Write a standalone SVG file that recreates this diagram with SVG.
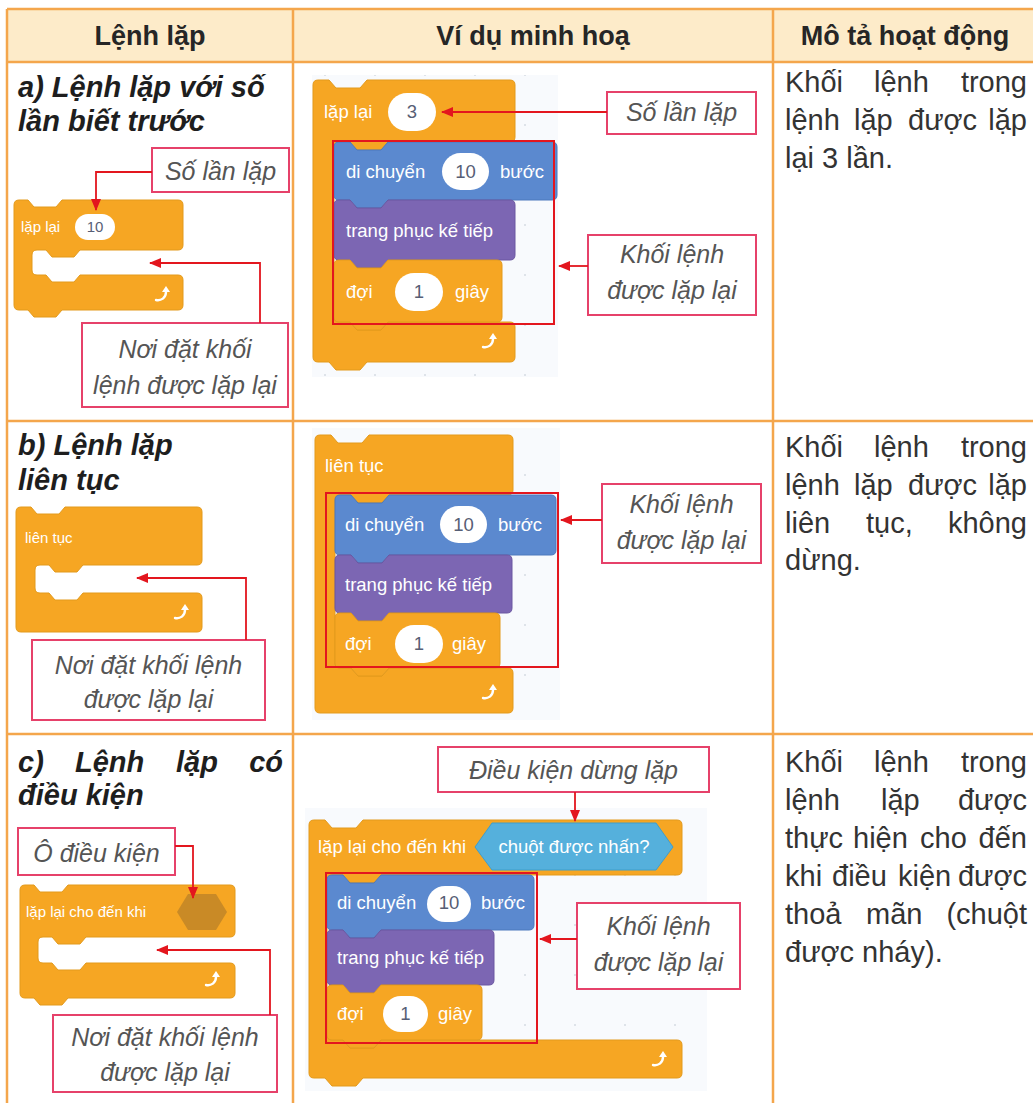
<svg xmlns="http://www.w3.org/2000/svg" xmlns:xlink="http://www.w3.org/1999/xlink" width="1033" height="1103" viewBox="0 0 1033 1103">
<style>
text{font-family:"Liberation Sans",Arial,sans-serif}
.hdr{font-size:27px;font-weight:bold;fill:#262626;text-anchor:middle}
.ttl{font-size:29px;font-weight:bold;font-style:italic;fill:#1e1e1e}
.body{font-size:29px;fill:#333}
.end{text-anchor:end}
.co{font-size:25px;font-style:italic;fill:#555;text-anchor:middle}
.blk{font-size:18.5px;fill:#fff}
.sblk{font-size:15px;fill:#fff}
.num{fill:#575e75;text-anchor:middle}
.cbox{fill:#fff;stroke:#e6416a;stroke-width:2}
.hl{fill:none;stroke:#e3161e;stroke-width:2}
.conn{fill:none;stroke:#e3161e;stroke-width:1.8;marker-end:url(#ah)}
.ctl{fill:#f6a623;stroke:#e39a1c;stroke-width:1}
.mot{fill:#5b89cf;stroke:#4c79bd;stroke-width:1}
.lks{fill:#7c66b3;stroke:#6b57a1;stroke-width:1}
.oval{fill:#fff}
.grid{stroke:#f4a64c;stroke-width:2.5;fill:none}
.canvas{fill:#f8fafd}
</style>
<defs>
<marker id="ah" viewBox="0 0 12 10" refX="11" refY="5" markerWidth="12" markerHeight="10" markerUnits="userSpaceOnUse" orient="auto"><path d="M0,0 L12,5 L0,10 Z" fill="#e3161e"/></marker>
<pattern id="dots" width="50" height="50" patternUnits="userSpaceOnUse"><circle cx="25" cy="25" r="1" fill="#d6dbe3"/></pattern>
<g id="loop"><path d="M-7,5 C-2,6 3,3 3,-3" fill="none" stroke="#fff" stroke-width="2.4" stroke-linecap="round"/><polygon points="-1,-3 3,-9 7,-3" fill="#fff"/></g>
</defs>
<rect width="1033" height="1103" fill="#fff"/>

<g id="table">
<rect x="7" y="9" width="1026" height="53" fill="#fdebc9"/>
<path class="grid" d="M7,9 H1033 M7,62 H1033 M7,421 H1033 M7,734 H1033 M7,9 V1103 M293,9 V1103 M773,9 V1103"/>
<text class="hdr" x="150" y="45">Lệnh lặp</text>
<text class="hdr" x="533" y="45">Ví dụ minh hoạ</text>
<text class="hdr" x="905" y="45">Mô tả hoạt động</text>
</g>

<g id="canvases">
<rect class="canvas" x="312" y="75" width="246" height="302"/><rect x="312" y="75" width="246" height="302" fill="url(#dots)"/>
<rect class="canvas" x="312" y="428" width="248" height="292"/><rect x="312" y="428" width="248" height="292" fill="url(#dots)"/>
<rect class="canvas" x="305" y="808" width="402" height="283"/><rect x="305" y="808" width="402" height="283" fill="url(#dots)"/>
</g>

<!-- Row a -->
<g id="title-a">
<text class="ttl" x="18" y="97">a) Lệnh lặp với số</text>
<text class="ttl" x="18" y="131">lần biết trước</text>
</g>
<g id="block-a-left">
<path class="ctl" d="M14,205 Q14,200 19,200 H28 l6,7 h22 l6,-7 H178 Q183,200 183,205 V245 Q183,250 178,250 H80 l-6,7 h-22 l-6,-7 H37 Q32,250 32,255 V270 Q32,275 37,275 H46 l6,7 h22 l6,-7 H178 Q183,275 183,280 V305 Q183,310 178,310 H62 l-6,7 h-22 l-6,-7 H19 Q14,310 14,305 Z"/>
<text class="sblk" x="21" y="232">lặp lại</text>
<rect class="oval" x="75" y="214" width="40" height="26" rx="13"/>
<text class="sblk num" x="95" y="232">10</text>
<use href="#loop" x="163" y="295"/>
</g>
<g id="callout-a-solan"><rect class="cbox" x="152" y="148" width="137" height="44"/><text class="co" x="220.5" y="180">Số lần lặp</text></g>
<g id="callout-a-noidat"><rect class="cbox" x="82" y="323" width="206" height="84"/><text class="co" x="185" y="358">Nơi đặt khối</text><text class="co" x="185" y="394">lệnh được lặp lại</text></g>

<g id="example-a">
<path class="ctl" d="M313,85 Q313,80 318,80 H329 l7,8 h24 l7,-8 H510 Q515,80 515,85 V137 Q515,142 510,142 H388 l-7,8 h-24 l-7,-8 H339 Q334,142 334,147 V317 Q334,322 339,322 H350 l7,8 h24 l7,-8 H510 Q515,322 515,327 V357 Q515,362 510,362 H367 l-7,8 h-24 l-7,-8 H318 Q313,362 313,357 Z"/>
<text class="blk" x="324" y="118">lặp lại</text>
<rect class="oval" x="388" y="93" width="48" height="38" rx="19"/><text class="blk num" x="412" y="118">3</text>
<path class="mot" d="M334,147 Q334,142 339,142 H350 l7,8 h24 l7,-8 H552 Q557,142 557,147 V195 Q557,200 552,200 H388 l-7,8 h-24 l-7,-8 H339 Q334,200 334,195 Z"/>
<text class="blk" x="346" y="178">di chuyển</text>
<rect class="oval" x="442" y="153" width="47" height="37" rx="18.5"/><text class="blk num" x="465.5" y="178">10</text>
<text class="blk" x="500" y="178">bước</text>
<path class="lks" d="M334,205 Q334,200 339,200 H350 l7,8 h24 l7,-8 H510 Q515,200 515,205 V255 Q515,260 510,260 H388 l-7,8 h-24 l-7,-8 H339 Q334,260 334,255 Z"/>
<text class="blk" x="346" y="237">trang phục kế tiếp</text>
<path class="ctl" d="M334,265 Q334,260 339,260 H350 l7,8 h24 l7,-8 H497 Q502,260 502,265 V317 Q502,322 497,322 H388 l-7,8 h-24 l-7,-8 H339 Q334,322 334,317 Z"/>
<text class="blk" x="346" y="298">đợi</text>
<rect class="oval" x="395" y="273" width="48" height="38" rx="19"/><text class="blk num" x="419" y="298">1</text>
<text class="blk" x="455" y="298">giây</text>
<use href="#loop" x="490" y="342"/>
<rect class="hl" x="333" y="141" width="221" height="183"/>
</g>
<g id="callout-a-mid-solan"><rect class="cbox" x="607" y="92" width="149" height="42"/><text class="co" x="681.5" y="121">Số lần lặp</text></g>
<g id="callout-a-mid-khoi"><rect class="cbox" x="588" y="235" width="168" height="80"/><text class="co" x="672" y="263">Khối lệnh</text><text class="co" x="672" y="299">được lặp lại</text></g>

<g id="desc-a">
<text class="body" y="92"><tspan x="785">Khối</tspan><tspan x="874">lệnh</tspan></text><text class="body end" x="1027" y="92">trong</text>
<text class="body" y="130"><tspan x="785">lệnh</tspan><tspan x="854">lặp</tspan><tspan x="908">được</tspan></text><text class="body end" x="1027" y="130">lặp</text>
<text class="body" x="785" y="168">lại 3 lần.</text>
</g>

<!-- Row b -->
<g id="title-b">
<text class="ttl" x="18" y="455">b) Lệnh lặp</text>
<text class="ttl" x="18" y="490">liên tục</text>
</g>
<g id="block-b-left">
<path class="ctl" d="M16,512 Q16,507 21,507 H31 l6,7 h22 l6,-7 H197 Q202,507 202,512 V560 Q202,565 197,565 H83 l-6,7 h-22 l-6,-7 H40 Q35,565 35,570 V588 Q35,593 40,593 H49 l6,7 h22 l6,-7 H197 Q202,593 202,598 V627 Q202,632 197,632 H21 Q16,632 16,627 Z"/>
<text class="sblk" x="25" y="543">liên tục</text>
<use href="#loop" x="182" y="613"/>
</g>
<g id="callout-b-noidat"><rect class="cbox" x="32" y="640" width="233" height="80"/><text class="co" x="148.5" y="674">Nơi đặt khối lệnh</text><text class="co" x="148.5" y="708">được lặp lại</text></g>

<g id="example-b">
<path class="ctl" d="M315,440 Q315,435 320,435 H331 l7,8 h24 l7,-8 H508 Q513,435 513,440 V490 Q513,495 508,495 H389 l-7,8 h-24 l-7,-8 H340 Q335,495 335,500 V663 Q335,668 340,668 H351 l7,8 h24 l7,-8 H508 Q513,668 513,673 V708 Q513,713 508,713 H320 Q315,713 315,708 Z"/>
<text class="blk" x="325" y="472">liên tục</text>
<path class="mot" d="M335,500 Q335,495 340,495 H351 l7,8 h24 l7,-8 H551 Q556,495 556,500 V550 Q556,555 551,555 H389 l-7,8 h-24 l-7,-8 H340 Q335,555 335,550 Z"/>
<text class="blk" x="345" y="531">di chuyển</text>
<rect class="oval" x="440" y="506" width="47" height="37" rx="18.5"/><text class="blk num" x="463.5" y="531">10</text>
<text class="blk" x="498" y="531">bước</text>
<path class="lks" d="M335,560 Q335,555 340,555 H351 l7,8 h24 l7,-8 H507 Q512,555 512,560 V608 Q512,613 507,613 H389 l-7,8 h-24 l-7,-8 H340 Q335,613 335,608 Z"/>
<text class="blk" x="345" y="591">trang phục kế tiếp</text>
<path class="ctl" d="M335,618 Q335,613 340,613 H351 l7,8 h24 l7,-8 H495 Q500,613 500,618 V663 Q500,668 495,668 H389 l-7,8 h-24 l-7,-8 H340 Q335,668 335,663 Z"/>
<text class="blk" x="345" y="650">đợi</text>
<rect class="oval" x="395" y="625" width="48" height="38" rx="19"/><text class="blk num" x="419" y="650">1</text>
<text class="blk" x="452" y="650">giây</text>
<use href="#loop" x="490" y="693"/>
<rect class="hl" x="326" y="493" width="232" height="174"/>
</g>
<g id="callout-b-mid-khoi"><rect class="cbox" x="602" y="484" width="159" height="79"/><text class="co" x="681.5" y="513">Khối lệnh</text><text class="co" x="681.5" y="549">được lặp lại</text></g>

<g id="desc-b">
<text class="body" y="457"><tspan x="785">Khối</tspan><tspan x="874">lệnh</tspan></text><text class="body end" x="1027" y="457">trong</text>
<text class="body" y="495"><tspan x="785">lệnh</tspan><tspan x="854">lặp</tspan><tspan x="908">được</tspan></text><text class="body end" x="1027" y="495">lặp</text>
<text class="body" y="533"><tspan x="785">liên</tspan><tspan x="866">tục,</tspan></text><text class="body end" x="1027" y="533">không</text>
<text class="body" x="785" y="570">dừng.</text>
</g>

<!-- Row c -->
<g id="title-c">
<text class="ttl" y="772"><tspan x="18">c)</tspan><tspan x="75">Lệnh</tspan><tspan x="176">lặp</tspan></text><text class="ttl end" x="283" y="772">có</text>
<text class="ttl" x="18" y="805">điều kiện</text>
</g>
<g id="callout-c-odk"><rect class="cbox" x="18" y="828" width="157" height="47"/><text class="co" x="96.5" y="862">Ô điều kiện</text></g>
<g id="block-c-left">
<path class="ctl" d="M20,890 Q20,885 25,885 H34 l6,7 h22 l6,-7 H230 Q235,885 235,890 V932 Q235,937 230,937 H86 l-6,7 h-22 l-6,-7 H43 Q38,937 38,942 V958 Q38,963 43,963 H52 l6,7 h22 l6,-7 H230 Q235,963 235,968 V993 Q235,998 230,998 H68 l-6,7 h-22 l-6,-7 H25 Q20,998 20,993 Z"/>
<text class="sblk" x="26" y="917">lặp lại cho đến khi</text>
<polygon points="177,912 188,894 216,894 227,912 216,930 188,930" fill="#c98a26"/>
<use href="#loop" x="213" y="980"/>
</g>
<g id="callout-c-noidat"><rect class="cbox" x="53" y="1015" width="224" height="77"/><text class="co" x="165" y="1046">Nơi đặt khối lệnh</text><text class="co" x="165" y="1081">được lặp lại</text></g>

<g id="callout-c-mid-dk"><rect class="cbox" x="438" y="747" width="271" height="45"/><text class="co" x="573.5" y="779">Điều kiện dừng lặp</text></g>
<g id="example-c">
<path class="ctl" d="M309,825 Q309,820 314,820 H325 l7,8 h24 l7,-8 H677 Q682,820 682,825 V870 Q682,875 677,875 H381 l-7,8 h-24 l-7,-8 H332 Q327,875 327,880 V1035 Q327,1040 332,1040 H343 l7,8 h24 l7,-8 H677 Q682,1040 682,1045 V1073 Q682,1078 677,1078 H363 l-7,8 h-24 l-7,-8 H314 Q309,1078 309,1073 Z"/>
<text class="blk" x="318" y="853">lặp lại cho đến khi</text>
<polygon points="475,847 492,823 656,823 673,847 656,870 492,870" fill="#55b0dc" stroke="#3f9ecb" stroke-width="1"/>
<text class="blk" x="574" y="853" text-anchor="middle">chuột được nhấn?</text>
<path class="mot" d="M327,880 Q327,875 332,875 H343 l7,8 h24 l7,-8 H529 Q534,875 534,880 V925 Q534,930 529,930 H381 l-7,8 h-24 l-7,-8 H332 Q327,930 327,925 Z"/>
<text class="blk" x="337" y="909">di chuyển</text>
<rect class="oval" x="427" y="886" width="44" height="36" rx="18"/><text class="blk num" x="449" y="909">10</text>
<text class="blk" x="481" y="909">bước</text>
<path class="lks" d="M327,935 Q327,930 332,930 H343 l7,8 h24 l7,-8 H489 Q494,930 494,935 V980 Q494,985 489,985 H381 l-7,8 h-24 l-7,-8 H332 Q327,985 327,980 Z"/>
<text class="blk" x="337" y="964">trang phục kế tiếp</text>
<path class="ctl" d="M327,990 Q327,985 332,985 H343 l7,8 h24 l7,-8 H477 Q482,985 482,990 V1035 Q482,1040 477,1040 H381 l-7,8 h-24 l-7,-8 H332 Q327,1040 327,1035 Z"/>
<text class="blk" x="337" y="1020">đợi</text>
<rect class="oval" x="383" y="996" width="45" height="36" rx="18"/><text class="blk num" x="405.5" y="1020">1</text>
<text class="blk" x="438" y="1020">giây</text>
<use href="#loop" x="660" y="1060"/>
<rect class="hl" x="326" y="873" width="211" height="170"/>
</g>
<g id="callout-c-mid-khoi"><rect class="cbox" x="577" y="903" width="163" height="86"/><text class="co" x="658.5" y="935">Khối lệnh</text><text class="co" x="658.5" y="971">được lặp lại</text></g>

<g id="desc-c">
<text class="body" y="772"><tspan x="785">Khối</tspan><tspan x="874">lệnh</tspan></text><text class="body end" x="1027" y="772">trong</text>
<text class="body" y="810"><tspan x="785">lệnh</tspan><tspan x="881">lặp</tspan></text><text class="body end" x="1027" y="810">được</text>
<text class="body" y="848"><tspan x="785">thực</tspan><tspan x="853">hiện</tspan><tspan x="920">cho</tspan></text><text class="body end" x="1027" y="848">đến</text>
<text class="body" y="886"><tspan x="785">khi</tspan><tspan x="832">điều</tspan><tspan x="898">kiện</tspan></text><text class="body end" x="1027" y="886">được</text>
<text class="body" y="924"><tspan x="785">thoả</tspan><tspan x="866">mãn</tspan></text><text class="body end" x="1027" y="924">(chuột</text>
<text class="body" x="785" y="962">được nháy).</text>
</g>

<g id="connectors">
<path class="conn" d="M152,172 H96 V210"/>
<path class="conn" d="M260,323 V263 H150"/>
<path class="conn" d="M607,112 H442"/>
<path class="conn" d="M588,266 H559"/>
<path class="conn" d="M246,640 V578 H137"/>
<path class="conn" d="M602,520 H561"/>
<path class="conn" d="M175,846 H193 V898"/>
<path class="conn" d="M270,1015 V950 H157"/>
<path class="conn" d="M575,792 V821"/>
<path class="conn" d="M577,939 H540"/>
</g>
</svg>
